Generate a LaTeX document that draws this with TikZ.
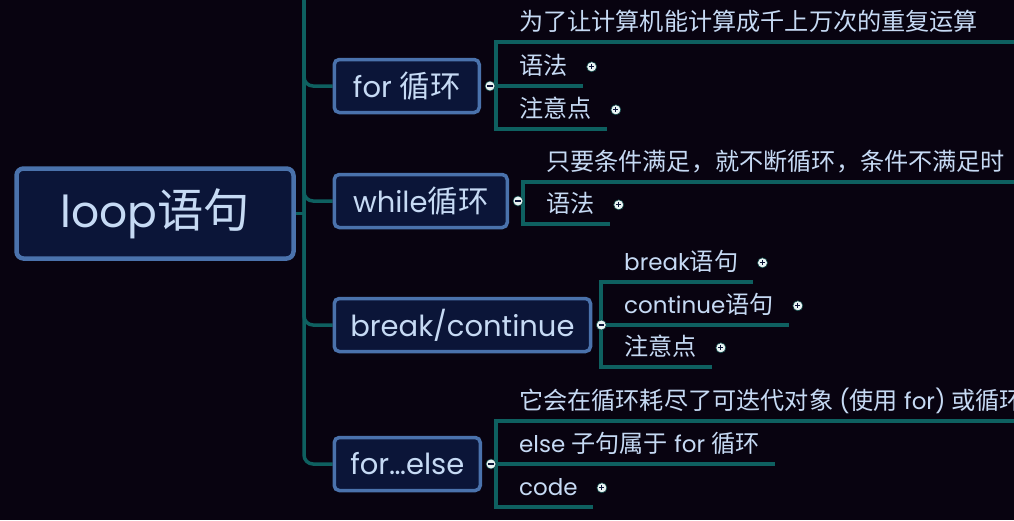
\documentclass[tikz,border=0pt]{standalone}
\usepackage{fontspec}
\setmainfont{Poppins}
\newfontfamily\zhfont[Scale=1.05]{Noto Sans CJK SC}
\newcommand{\zh}[1]{{\zhfont #1}}
\usetikzlibrary{positioning,calc,backgrounds}
\definecolor{nightbg}{RGB}{8,3,16}
\definecolor{navyfill}{RGB}{11,21,56}
\definecolor{steelblue}{RGB}{74,114,172}
\definecolor{deepteal}{RGB}{14,96,96}
\definecolor{paletext}{RGB}{198,218,244}
\definecolor{dotwhite}{RGB}{232,242,242}

\begin{document}
\begin{tikzpicture}[x=1pt,y=-1pt,
  root/.style={draw=steelblue,fill=navyfill,line width=4.5pt,rounded corners=7pt,
               minimum width=277pt,minimum height=90pt,
               font=\fontsize{44}{50}\selectfont,text=paletext},
  topic/.style={draw=steelblue,fill=navyfill,line width=3.5pt,rounded corners=5pt,
                minimum height=53pt,inner xsep=16pt,anchor=west,
                font=\fontsize{29}{34}\selectfont,text=paletext},
  leaf/.style={anchor=south west,inner xsep=15pt,inner ysep=7pt,
               text height=20pt,text depth=4pt,
               font=\fontsize{23}{28}\selectfont,text=paletext},
  trunk/.style={draw=deepteal,line width=3.5pt,rounded corners=9pt},
  branch/.style={draw=deepteal,line width=3.5pt},
  fold/.style={circle,fill=dotwhite,draw=deepteal!70!black,line width=0.6pt,
               inner sep=0pt,minimum size=10pt},
  minus/.style={fold,path picture={\draw[navyfill,line width=1.2pt]
      ([xshift=2.4pt]path picture bounding box.west) --
      ([xshift=-2.4pt]path picture bounding box.east);}},
  plus/.style={fold,path picture={\draw[navyfill,line width=1.2pt]
      ([xshift=2.4pt]path picture bounding box.west) --
      ([xshift=-2.4pt]path picture bounding box.east)
      ([yshift=-2.4pt]path picture bounding box.north) --
      ([yshift=2.4pt]path picture bounding box.south);}}]
\useasboundingbox (0,0) rectangle (1014,520);
\clip (0,0) rectangle (1014,520);

% root and main topics
\node[root] (loop) at (155,213.5) {loop\zh{语句}};
\node[topic,minimum width=145pt] (for) at (332.5,86) {for \zh{循环}};
\node[topic,minimum width=173pt] (while) at (332.5,201) {while\zh{循环}};
\node[topic,minimum width=251pt] (brk) at (332.5,325) {break/continue};
\node[topic,minimum width=145pt] (forelse) at (332.5,464) {for…else};
\coordinate (trunktop) at (304,-10);
\coordinate (rim) at (1030,0);

\node[minus] (fordot) at ([xshift=9pt]for.east) {};
\node[minus] (whiledot) at ([xshift=9pt]while.east) {};
\node[minus] (brkdot) at ([xshift=9pt]brk.east) {};
\node[minus] (forelsedot) at ([xshift=9pt]forelse.east) {};

% leaves
\node[leaf] (for0) at (504,42) {\zh{为了让计算机能计算成千上万次的重复运算}};
\node[leaf] (for1) at (504,86) {\zh{语法}};
\node[leaf] (for2) at (504,129) {\zh{注意点}};
\node[leaf] (wh0) at (531,182) {\zh{只要条件满足，就不断循环，条件不满足时}};
\node[leaf] (wh1) at (531,224) {\zh{语法}};
\node[leaf] (bc0) at (609,282) {break\zh{语句}};
\node[leaf] (bc1) at (609,325) {continue\zh{语句}};
\node[leaf] (bc2) at (609,367) {\zh{注意点}};
\node[leaf] (fe0) at (504,421) {\zh{它会在循环耗尽了可迭代对象} (\zh{使用} for) \zh{或循环}};
\node[leaf] (fe1) at (504,464) {else \zh{子句属于} for \zh{循环}};
\node[leaf] (fe2) at (504,507) {code};

\foreach \n in {for1,for2,wh1,bc0,bc1,bc2,fe2}
  \node[plus] (fold-\n) at ([xshift=9pt]\n.east) {};

\begin{scope}[on background layer]
\fill[nightbg] (0,0) rectangle (1014,520);
\draw[branch] (loop.east) -- (loop.east -| trunktop);
\foreach \t in {for,while,brk,forelse}
  \draw[trunk] (trunktop) |- (\t.west);
\foreach \d/\l in {fordot/for0,fordot/for1,fordot/for2,whiledot/wh0,whiledot/wh1,
                   brkdot/bc0,brkdot/bc1,brkdot/bc2,
                   forelsedot/fe0,forelsedot/fe1,forelsedot/fe2}
  \draw[branch] (\d.center) -| ([xshift=-8pt]\l.south west) -- (\l.south east);
\foreach \l in {for0,wh0,fe0}
  \draw[branch] (\l.south east) -- (\l.south -| rim);
\end{scope}
\end{tikzpicture}
\end{document}
